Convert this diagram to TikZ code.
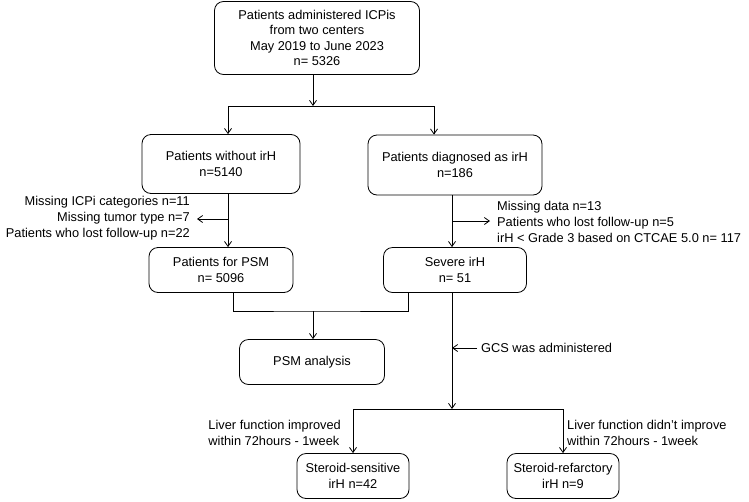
\documentclass[tikz,border=0pt]{standalone}
\usepackage{fontspec}
\setmainfont{Liberation Sans}
\usetikzlibrary{arrows.meta}
\tikzset{
  box/.style = {draw, thick, rounded corners=9pt, align=center,
    inner sep=2pt, font=\fontsize{12.8}{15.5}\selectfont},
  note/.style = {font=\fontsize{12.8}{16}\selectfont, inner sep=1pt},
  flow/.style = {thick, -{Straight Barb[length=5pt,width=7pt]}}
}

\begin{document}
\begin{tikzpicture}[x=1pt,y=-1pt]
  \useasboundingbox (0,0) rectangle (749,501);
  % boxes
  \node[box, minimum width=205, minimum height=73] (all) at (317,38)
    {Patients administered ICPis\\from two centers\\May 2019 to June 2023\\n= 5326};
  \node[box, minimum width=158, minimum height=59] (noirh) at (221,164) {Patients without irH\\n=5140};
  \node[box, minimum width=174, minimum height=60] (irh) at (455,165) {Patients diagnosed as irH\\n=186};
  \node[box, minimum width=144, minimum height=45] (psm) at (221,270) {Patients for PSM\\n= 5096};
  \node[box, minimum width=143, minimum height=45] (severe) at (455,270) {Severe irH\\n= 51};
  \node[box, minimum width=145, minimum height=45] (ana) at (312,362) {PSM analysis};
  \node[box, minimum width=112, minimum height=45] (sens) at (353,476) {Steroid-sensitive\\irH n=42};
  \node[box, minimum width=112, minimum height=45] (refr) at (563,476) {Steroid-refarctory\\irH n=9};
  % junctions
  \coordinate (split) at (313,106);
  \coordinate (join) at (313,311);
  \coordinate (gcs) at (452,348);
  \coordinate (branch) at (452,409);
  \coordinate (exl) at (197,219);
  \coordinate (exr) at (490,221);
  % connectors
  \draw[flow] (all.south -| split) -- (split);
  \draw[flow] (split) -| (noirh.north -| 228,0);
  \draw[flow] (split) -| (irh.north -| 434,0);
  \draw[flow] (noirh.south -| 228,0) -- (psm.north -| 228,0);
  \draw[flow] (228,219) -- (exl);
  \draw[flow] (irh.south -| 452,0) -- (severe.north -| 452,0);
  \draw[flow] (452,221) -- (exr);
  \draw[thick] (psm.south -| 233,0) |- (join) -| (severe.south -| 408,0);
  \draw[flow] (join) -- (ana.north -| join);
  \draw[thick] (severe.south -| gcs) -- (gcs);
  \draw[flow] (gcs) -- (branch);
  \draw[flow] (477,348) -- (gcs);
  \draw[flow] (branch) -| (sens.north);
  \draw[flow] (branch) -| (refr.north);
  % side notes
  \node[note, anchor=east, align=right] (exltext) at (191,218)
    {Missing ICPi categories n=11\\Missing tumor type n=7\\Patients who lost follow-up n=22};
  \node[note, anchor=west, align=left] (exrtext) at (496,222)
    {Missing data n=13\\Patients who lost follow-up n=5\\irH < Grade 3 based on CTCAE 5.0 n= 117};
  \node[note, anchor=west] (gcstext) at (480,348) {GCS was administered};
  \node[note, anchor=east, align=left] (oktext) at (342,433)
    {Liver function improved\\within 72hours - 1week};
  \node[note, anchor=west, align=left] (notext) at (566,433)
    {Liver function didn’t improve\\within 72hours - 1week};
\end{tikzpicture}
\end{document}
